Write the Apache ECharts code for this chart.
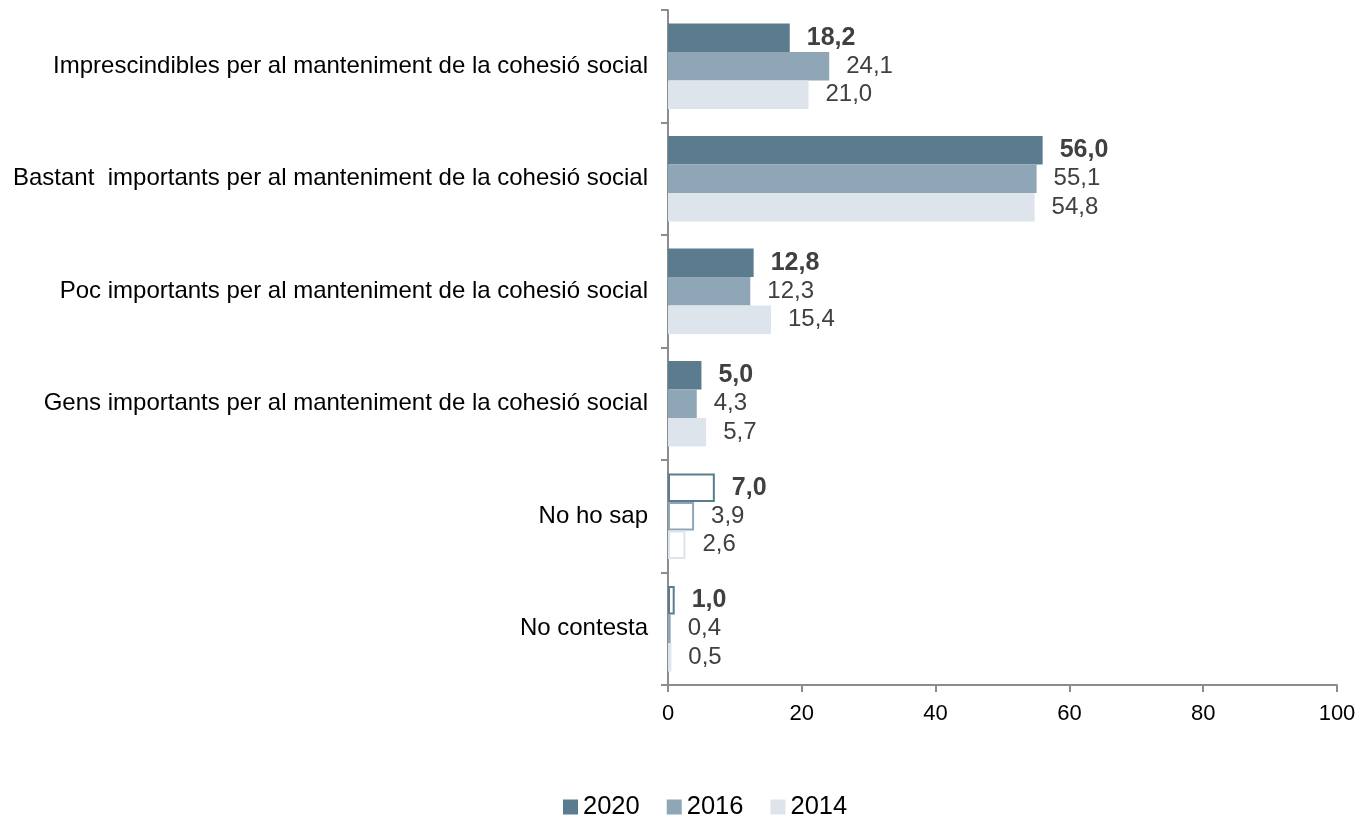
<!DOCTYPE html>
<html>
<head>
<meta charset="utf-8">
<script src="https://cdn.jsdelivr.net/npm/echarts@6/dist/echarts.min.js"></script>
<style>html,body{margin:0;padding:0;background:#fff}#c{width:1363px;height:818px}</style>
</head>
<body>
<div id="c"></div>
<script>
const categories = [
  "Imprescindibles per al manteniment de la cohesió social",
  "Bastant  importants per al manteniment de la cohesió social",
  "Poc importants per al manteniment de la cohesió social",
  "Gens importants per al manteniment de la cohesió social",
  "No ho sap",
  "No contesta"
];
const seriesNames = ["2020", "2016", "2014"];
const values2020 = [18.2, 56.0, 12.8, 5.0, 7.0, 1.0];
const values2016 = [24.1, 55.1, 12.3, 4.3, 3.9, 0.4];
const values2014 = [21.0, 54.8, 15.4, 5.7, 2.6, 0.5];
const hollowCategories = ["No ho sap", "No contesta"];
const xTicks = [0, 20, 40, 60, 80, 100];

const colors = ["#5b7c8e", "#8fa6b7", "#dde4eb"];
const allValues = [values2020, values2016, values2014];
const FONT = "Liberation Sans, Arial, sans-serif";

function makeData(vals, color) {
  return vals.map((v, i) => {
    if (hollowCategories.includes(categories[i])) {
      return { value: v, itemStyle: { color: "#ffffff", borderColor: color, borderWidth: 2 } };
    }
    return { value: v };
  });
}

const series = seriesNames.map((name, si) => ({
  name: name,
  type: "bar",
  data: makeData(allValues[si], colors[si]),
  itemStyle: { color: colors[si] },
  barGap: "0%",
  barCategoryGap: "24%",
  label: {
    show: true,
    position: "right",
    distance: 17,
    fontFamily: FONT,
    fontSize: si === 0 ? 25 : 24,
    fontWeight: si === 0 ? "bold" : "normal",
    color: "#404040",
    formatter: p => p.value.toFixed(1).replace(".", ",")
  }
}));

const chart = echarts.init(document.getElementById("c"));
chart.setOption({
  animation: false,
  color: colors,
  textStyle: { fontFamily: FONT },
  grid: { left: 668, right: 26, top: 10, bottom: 133, containLabel: false },
  legend: {
    data: seriesNames,
    left: 558,
    top: 789,
    icon: "rect",
    itemWidth: 15,
    itemHeight: 15,
    itemGap: 27,
    textStyle: { fontSize: 25.5, color: "#000", fontFamily: FONT, padding: [0, 0, 0, 0] }
  },
  xAxis: {
    type: "value",
    min: 0,
    max: 100,
    interval: 20,
    axisLine: { show: true, lineStyle: { color: "#8c8c8c", width: 2 } },
    axisTick: { show: true, length: 7, lineStyle: { color: "#8c8c8c", width: 2 } },
    splitLine: { show: false },
    axisLabel: {
      fontSize: 22, color: "#000", margin: 18,
      formatter: v => xTicks.includes(v) ? String(v) : ""
    }
  },
  yAxis: {
    type: "category",
    data: categories,
    inverse: true,
    axisLine: { show: true, lineStyle: { color: "#8c8c8c", width: 2 } },
    axisTick: { show: true, length: 7, lineStyle: { color: "#8c8c8c", width: 2 } },
    axisLabel: { fontSize: 24, color: "#000", margin: 20 }
  },
  series: series
});
</script>
</body>
</html>
